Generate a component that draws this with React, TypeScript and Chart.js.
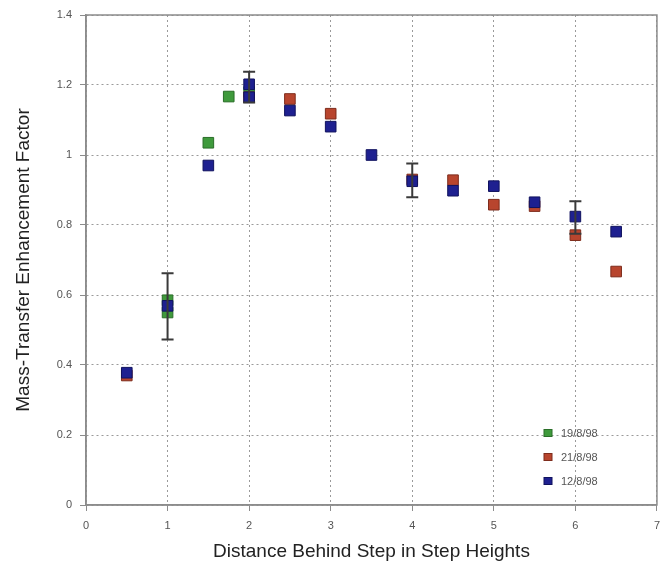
import React, { useEffect, useRef } from "react";
import { Chart, registerables } from "chart.js";

Chart.register(...registerables);

const seriesNames = ["19/8/98", "21/8/98", "12/8/98"];

const greenX = [1, 1, 1.5, 1.75, 2];
const greenY = [0.55, 0.585, 1.035, 1.167, 1.18];

const redX = [0.5, 2, 2.5, 3, 4, 4.5, 5, 5.5, 6, 6.5];
const redY = [0.37, 1.165, 1.16, 1.118, 0.93, 0.928, 0.858, 0.854, 0.771, 0.667];

const blueX = [0.5, 1, 1.5, 2, 2, 2.5, 3, 3.5, 4, 4.5, 5, 5.5, 6, 6.5];
const blueY = [0.378, 0.569, 0.97, 1.202, 1.165, 1.127, 1.081, 1.0, 0.925, 0.898, 0.911, 0.865, 0.824, 0.781];

const errX = [1, 2, 4, 6];
const errLow = [0.473, 1.15, 0.879, 0.775];
const errHigh = [0.662, 1.238, 0.976, 0.868];

const xTicks = [0, 1, 2, 3, 4, 5, 6, 7];
const yTicks = [0, 0.2, 0.4, 0.6, 0.8, 1, 1.2, 1.4];

const fills = ["#3f9a3c", "#b8452e", "#1e2090"];
const edges = ["#2a6e28", "#7e2c1c", "#10125e"];

const FONT = "'Liberation Sans', Arial, Helvetica, sans-serif";

const toPts = (xs: number[], ys: number[]) => xs.map((x, i) => ({ x, y: ys[i] }));
const fmt = (v: any) => String(Math.round(Number(v) * 10) / 10);

export default function App() {
  const ref = useRef<HTMLCanvasElement | null>(null);

  useEffect(() => {
    document.body.style.margin = "0";
    const canvas = ref.current;
    if (!canvas) return;

    const overlay = {
      id: "overlay",
      afterDatasetsDraw(chart: any) {
        const ctx = chart.ctx;
        const xs = chart.scales.x;
        const ys = chart.scales.y;
        ctx.save();
        ctx.strokeStyle = "#3a3a3a";
        ctx.lineWidth = 2;
        errX.forEach((xv, i) => {
          const px = xs.getPixelForValue(xv);
          const lo = ys.getPixelForValue(errLow[i]);
          const hi = ys.getPixelForValue(errHigh[i]);
          ctx.beginPath();
          ctx.moveTo(px, lo);
          ctx.lineTo(px, hi);
          ctx.moveTo(px - 6, lo);
          ctx.lineTo(px + 6, lo);
          ctx.moveTo(px - 6, hi);
          ctx.lineTo(px + 6, hi);
          ctx.stroke();
        });
        ctx.restore();
      },
      afterDraw(chart: any) {
        const ctx = chart.ctx;
        const a = chart.chartArea;
        ctx.save();
        ctx.strokeStyle = "#8c8c8c";
        ctx.lineWidth = 1.5;
        ctx.strokeRect(a.left, a.top, a.right - a.left, a.bottom - a.top);
        const lx = 548;
        const ly = [433, 457, 481];
        ctx.font = `11px ${FONT}`;
        ctx.textBaseline = "middle";
        seriesNames.forEach((name, i) => {
          ctx.fillStyle = fills[i];
          ctx.strokeStyle = edges[i];
          ctx.lineWidth = 1;
          ctx.fillRect(lx - 4, ly[i] - 3.5, 8, 7);
          ctx.strokeRect(lx - 4, ly[i] - 3.5, 8, 7);
          ctx.fillStyle = "#555";
          ctx.fillText(name, lx + 13, ly[i] + 1);
        });
        ctx.restore();
      },
    };

    const chart = new Chart(canvas, {
      type: "scatter",
      data: {
        datasets: [
          { label: seriesNames[0], data: toPts(greenX, greenY), backgroundColor: fills[0], borderColor: edges[0], order: 2 },
          { label: seriesNames[1], data: toPts(redX, redY), backgroundColor: fills[1], borderColor: edges[1], order: 1 },
          { label: seriesNames[2], data: toPts(blueX, blueY), backgroundColor: fills[2], borderColor: edges[2], order: 0 },
        ].map((d) => ({ ...d, pointStyle: "rect", pointRadius: 7.5, pointHoverRadius: 7.5, borderWidth: 1 })),
      },
      options: {
        animation: false,
        responsive: false,
        layout: { padding: { top: 15, right: 11, left: 0, bottom: 0 } },
        plugins: { legend: { display: false }, tooltip: { enabled: false } },
        scales: {
          x: {
            type: "linear",
            min: 0,
            max: 7,
            afterBuildTicks: (s: any) => {
              s.ticks = xTicks.map((v) => ({ value: v }));
            },
            afterFit: (s: any) => {
              s.height = 66;
            },
            ticks: { color: "#555", font: { family: FONT, size: 11 }, padding: 8, callback: fmt },
            grid: { color: "#9a9a9a", lineWidth: 1, tickLength: 6, tickColor: "#8c8c8c", tickBorderDash: [] },
            border: { color: "#8c8c8c", width: 1.5, dash: [2, 3] },
            title: { display: true, text: "Distance Behind Step in Step Heights", color: "#222", font: { family: FONT, size: 19 }, padding: { top: 2, bottom: 8 } },
          },
          y: {
            type: "linear",
            min: 0,
            max: 1.4,
            afterBuildTicks: (s: any) => {
              s.ticks = yTicks.map((v) => ({ value: v }));
            },
            afterFit: (s: any) => {
              s.width = 86;
            },
            ticks: { color: "#555", font: { family: FONT, size: 11 }, padding: 8, callback: fmt },
            grid: { color: "#9a9a9a", lineWidth: 1, tickLength: 6, tickColor: "#8c8c8c", tickBorderDash: [] },
            border: { color: "#8c8c8c", width: 1.5, dash: [2, 3] },
            title: { display: true, text: "Mass-Transfer Enhancement Factor", color: "#222", font: { family: FONT, size: 19 }, padding: { top: 12, bottom: 4 } },
          },
        },
      } as any,
      plugins: [overlay],
    });
    return () => chart.destroy();
  }, []);

  return (
    <div style={{ width: 668, height: 571, background: "#fff" }}>
      <canvas ref={ref} width={668} height={571} style={{ display: "block" }} />
    </div>
  );
}
